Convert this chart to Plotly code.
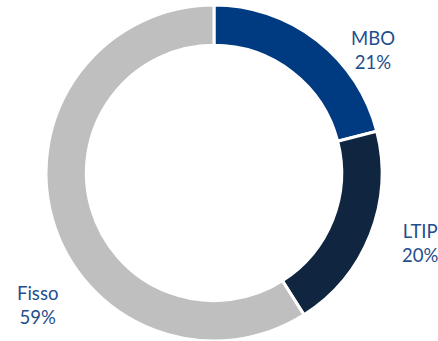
import plotly.graph_objects as go

labels = ["MBO", "LTIP", "Fisso"]
values = [21, 20, 59]
colors = ["#003A80", "#10253F", "#BFBFBF"]
# label anchor positions (paper coords) for the outside captions
label_pos = [(0.852, 0.853), (0.958, 0.287), (0.0845, 0.106)]

W, H = 438, 341
cx, r = 214, 168
fig = go.Figure(go.Pie(
    labels=labels, values=values, sort=False, direction="clockwise", rotation=0,
    hole=0.76, marker=dict(colors=colors, line=dict(color="white", width=3)),
    textinfo="none", hoverinfo="label+percent", showlegend=False,
    domain=dict(x=[(cx - r) / W, (cx + r) / W], y=[0, 2 * r / H]),
))

total = sum(values)
for lab, v, (x, y) in zip(labels, values, label_pos):
    fig.add_annotation(x=x, y=y, xref="paper", yref="paper", showarrow=False,
                       text=f"{lab}<br>{round(100 * v / total)}%",
                       font=dict(family="Lato, Carlito, sans-serif", size=18.5, color="#1F4E8D"),
                       xanchor="center", yanchor="middle", align="center")

fig.update_layout(width=W, height=H, margin=dict(l=0, r=0, t=0, b=0),
                  paper_bgcolor="white", plot_bgcolor="white")
fig.write_html("out.html")
